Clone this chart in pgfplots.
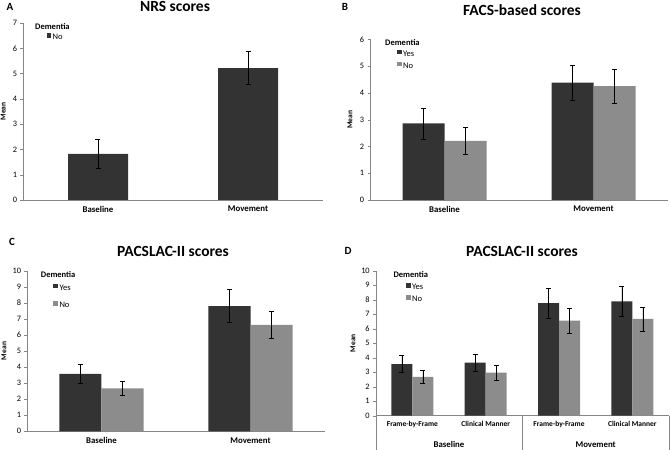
\documentclass[border=0pt]{standalone}
\usepackage{fontspec}
\setmainfont{Carlito}
\usepackage{pgfplots}
\pgfplotsset{compat=1.18}
\definecolor{darkbar}{HTML}{333333}
\definecolor{lightbar}{HTML}{8C8C8C}
\definecolor{axgray}{HTML}{868686}

\tikzset{dem/.style={font=\fontsize{8.5}{9}\selectfont\bfseries, anchor=west, inner sep=0pt}}
\pgfplotsset{
  panel/.style={
    scale only axis,
    axis x line=bottom, axis y line=left,
    axis line style={axgray,-},
    ymin=0,
    tick align=outside,
    major tick length=2.5pt,
    xtick style={draw=none},
    ytick style={axgray},
    /pgf/number format/assume math mode=true,
    x tick label style={font=\fontsize{8.8}{10}\selectfont\bfseries},
    y tick label style={font=\fontsize{8.3}{9}\selectfont},
    ylabel={\textbf{Mean}},
    ylabel style={font=\fontsize{7.5}{8}\selectfont, at={(axis description cs:0,0.5)}, anchor=center},
    error bars/y dir=both, error bars/y explicit,
    error bars/error bar style={black, line width=0.6pt},
    error bars/error mark options={rotate=90, mark size=2.5pt, black, line width=0.6pt},
    clip=false,
    legend cell align=left,
    legend style={draw=none, fill=none, inner sep=0pt, outer sep=0pt,
      at={(0,1)}, anchor=north west,
      font=\fontsize{8.5}{9}\selectfont,
      nodes={inner sep=0pt, text height=5pt, text depth=1pt, font=\fontsize{8.5}{9}\selectfont},
      column sep=1.5pt},
    every axis plot post/.append style={
      legend image code/.code={\fill[##1] (0pt,-0.3pt) rectangle (4.7pt,4.4pt);}},
  },
}

\begin{document}
\begin{tikzpicture}
\useasboundingbox (0,0) rectangle (670pt,450pt);

% ---------- Panel A ----------
\node[font=\fontsize{11}{12}\selectfont\bfseries] at (10pt,443.3pt) {A};
\node[font=\fontsize{15.5}{17}\selectfont\bfseries] at (175pt,443.3pt) {NRS scores};
\begin{axis}[panel,
  at={(23pt,250pt)}, anchor=south west,
  width=300pt, height=177pt,
  xmin=-0.5, xmax=1.5, ymax=7,
  ytick={0,1,...,7},
  xtick={0,1}, xticklabels={Baseline,Movement},
  ybar, bar width=60pt,
  ylabel style={yshift=19.7pt},
  legend style={xshift=23.5pt, yshift=-10pt},
]
\node[dem, xshift=12pt, yshift=-3.5pt] at (rel axis cs:0,1) {Dementia};
\addplot[fill=darkbar, draw=none] table[x=x, y=y, y error=e] {
x y e
0 1.82 0.58
1 5.22 0.65
};
\addlegendentry{No}
\end{axis}

% ---------- Panel B ----------
\node[font=\fontsize{11}{12}\selectfont\bfseries] at (345pt,443.3pt) {B};
\node[font=\fontsize{15.5}{17}\selectfont\bfseries] at (522pt,440pt) {FACS-based scores};
\begin{axis}[panel,
  at={(370pt,250pt)}, anchor=south west,
  width=298pt, height=160.7pt,
  xmin=-0.5, xmax=1.5, ymax=6,
  ytick={0,1,...,6},
  xtick={0,1}, xticklabels={Baseline,Movement},
  ybar=0pt, bar width=42pt,
  ylabel style={yshift=20pt},
  legend style={xshift=27pt, yshift=-10.4pt, row sep=4.6pt},
]
\node[dem, xshift=15pt, yshift=-3.4pt] at (rel axis cs:0,1) {Dementia};
\addplot[fill=darkbar, draw=none] table[x=x, y=y, y error=e] {
x y e
0 2.86 0.58
1 4.38 0.66
};
\addlegendentry{Yes}
\addplot[fill=lightbar, draw=none] table[x=x, y=y, y error=e] {
x y e
0 2.21 0.49
1 4.25 0.64
};
\addlegendentry{No}
\end{axis}

% ---------- Panel C ----------
\node[font=\fontsize{11}{12}\selectfont\bfseries] at (12pt,208.3pt) {C};
\node[font=\fontsize{15.5}{17}\selectfont\bfseries] at (173pt,198.3pt) {PACSLAC-II scores};
\begin{axis}[panel,
  at={(27pt,18.7pt)}, anchor=south west,
  width=298pt, height=160.6pt,
  xmin=-0.5, xmax=1.5, ymax=10,
  ytick={0,1,...,10},
  xtick={0,1}, xticklabels={Baseline,Movement},
  ybar=0pt, bar width=42pt,
  ylabel style={yshift=23pt},
  legend style={xshift=26.3pt, yshift=-13pt, row sep=10pt},
]
\node[dem, xshift=13.7pt, yshift=-4.3pt] at (rel axis cs:0,1) {Dementia};
\addplot[fill=darkbar, draw=none] table[x=x, y=y, y error=e] {
x y e
0 3.57 0.59
1 7.80 1.04
};
\addlegendentry{Yes}
\addplot[fill=lightbar, draw=none] table[x=x, y=y, y error=e] {
x y e
0 2.68 0.45
1 6.62 0.86
};
\addlegendentry{No}
\end{axis}

% ---------- Panel D ----------
\node[font=\fontsize{11}{12}\selectfont\bfseries] at (348pt,199pt) {D};
\node[font=\fontsize{15.5}{17}\selectfont\bfseries] at (522pt,199pt) {PACSLAC-II scores};
\begin{axis}[panel,
  at={(375.7pt,34.3pt)}, anchor=south west,
  width=293.3pt, height=145pt,
  xmin=-0.5, xmax=3.5, ymax=10,
  ytick={0,1,...,10},
  xtick={0,1,2,3}, xticklabels={Frame-by-Frame,Clinical Manner,Frame-by-Frame,Clinical Manner},
  x tick label style={font=\fontsize{7.5}{8}\selectfont\bfseries},
  ybar=0pt, bar width=21pt,
  ylabel style={yshift=22.7pt},
  legend style={xshift=30.3pt, yshift=-12.3pt, row sep=4.7pt},
]
\node[dem, xshift=17.6pt, yshift=-4.3pt] at (rel axis cs:0,1) {Dementia};
\addplot[fill=darkbar, draw=none] table[x=x, y=y, y error=e] {
x y e
0 3.56 0.58
1 3.66 0.58
2 7.77 1.02
3 7.89 1.01
};
\addlegendentry{Yes}
\addplot[fill=lightbar, draw=none] table[x=x, y=y, y error=e] {
x y e
0 2.67 0.43
1 2.97 0.50
2 6.55 0.84
3 6.67 0.82
};
\addlegendentry{No}
\draw[axgray] (rel axis cs:0,0) -- ++(0pt,-34.3pt);
\draw[axgray] (axis cs:1.5,0) -- ++(0pt,-34.3pt);
\draw[axgray] (rel axis cs:1,0) -- ++(0pt,-34.3pt);
\node[font=\fontsize{8.8}{10}\selectfont\bfseries] at ([yshift=-28.7pt]axis cs:0.5,0) {Baseline};
\node[font=\fontsize{8.8}{10}\selectfont\bfseries] at ([yshift=-28.7pt]axis cs:2.5,0) {Movement};
\end{axis}
\end{tikzpicture}
\end{document}
